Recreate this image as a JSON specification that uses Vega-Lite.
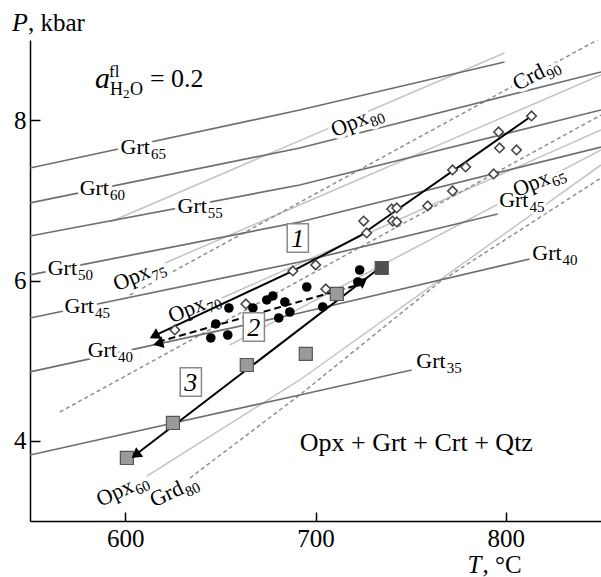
{
"$schema":"https://vega.github.io/schema/vega-lite/v6.json",
"width":571,"height":481,"autosize":"none",
"padding":{"left":30,"top":40,"right":0,"bottom":56},
"background":"white",
"config":{"font":"Liberation Serif","view":{"stroke":null},
 "axis":{"grid":false,"domainColor":"black","domainWidth":1.5,"tickColor":"black","tickWidth":1.5,"labelFontSize":25,"labelColor":"black","title":null,"labelFont":"Liberation Serif"}},
"datasets":{
"lines":[
{"k":"grt","id":"g65","T":550,"P":7.403},{"k":"grt","id":"g65","T":691.7,"P":8.127},{"k":"grt","id":"g65","T":799.3,"P":8.726},
{"k":"grt","id":"g60","T":550,"P":6.967},{"k":"grt","id":"g60","T":691.7,"P":7.653},{"k":"grt","id":"g60","T":850,"P":8.601},
{"k":"grt","id":"g55","T":550,"P":6.555},{"k":"grt","id":"g55","T":691.7,"P":7.191},{"k":"grt","id":"g55","T":850,"P":8.127},
{"k":"grt","id":"g50","T":550,"P":6.069},{"k":"grt","id":"g50","T":691.7,"P":6.730},{"k":"grt","id":"g50","T":850,"P":7.665},
{"k":"grt","id":"g45","T":550,"P":5.532},{"k":"grt","id":"g45","T":691.7,"P":6.231},{"k":"grt","id":"g45","T":795.7,"P":6.830},
{"k":"grt","id":"g40","T":550,"P":4.859},{"k":"grt","id":"g40","T":691.7,"P":5.595},{"k":"grt","id":"g40","T":812.5,"P":6.268},
{"k":"grt","id":"g35","T":550,"P":3.823},{"k":"grt","id":"g35","T":691.7,"P":4.572},{"k":"grt","id":"g35","T":750.5,"P":4.884},
{"k":"opx","id":"o80","T":592.0,"P":6.730},{"k":"opx","id":"o80","T":799.3,"P":8.838},
{"k":"opx","id":"o75","T":620.9,"P":6.218},{"k":"opx","id":"o75","T":850,"P":8.563},
{"k":"opx","id":"o70","T":650.8,"P":5.782},{"k":"opx","id":"o70","T":850,"P":7.877},
{"k":"opx","id":"o65","T":655.0,"P":5.195},{"k":"opx","id":"o65","T":850,"P":7.628},
{"k":"opx","id":"o60","T":611.4,"P":3.561},{"k":"opx","id":"o60","T":691.7,"P":4.759},{"k":"opx","id":"o60","T":850,"P":7.441},
{"k":"dash","id":"c90","T":602.5,"P":5.819},{"k":"dash","id":"c90","T":850,"P":9.025},
{"k":"dash","id":"d2","T":565.7,"P":4.360},{"k":"dash","id":"d2","T":850,"P":8.064},
{"k":"dash","id":"g80","T":634.0,"P":3.536},{"k":"dash","id":"g80","T":691.7,"P":4.572},{"k":"dash","id":"g80","T":765.2,"P":5.981},{"k":"dash","id":"g80","T":850,"P":7.279},
{"k":"s1","id":"s1","T":614.0,"P":5.296},{"k":"s1","id":"s1","T":688.1,"P":6.119},{"k":"s1","id":"s1","T":723.2,"P":6.555},{"k":"s1","id":"s1","T":813.5,"P":8.052},
{"k":"s2","id":"s2","T":617.2,"P":5.233},{"k":"s2","id":"s2","T":722.2,"P":5.944},
{"k":"s3","id":"s3","T":604.6,"P":3.811},{"k":"s3","id":"s3","T":733.7,"P":6.156}
],
"labels":[
{"main":"Grt","sub":"65","T":613.0,"P":7.578,"ang":0},
{"main":"Grt","sub":"60","T":591.5,"P":7.067,"ang":0},
{"main":"Grt","sub":"55","T":642.9,"P":6.842,"ang":0},
{"main":"Grt","sub":"50","T":574.7,"P":6.069,"ang":0},
{"main":"Grt","sub":"45","T":583.6,"P":5.595,"ang":0},
{"main":"Grt","sub":"40","T":595.7,"P":5.046,"ang":0},
{"main":"Grt","sub":"45","T":811.9,"P":6.917,"ang":0},
{"main":"Grt","sub":"40","T":829.3,"P":6.256,"ang":0},
{"main":"Grt","sub":"35","T":768.4,"P":4.909,"ang":0},
{"main":"Opx","sub":"80","T":728.5,"P":7.965,"ang":-22},
{"main":"Opx","sub":"75","T":614.0,"P":6.044,"ang":-22},
{"main":"Opx","sub":"70","T":642.9,"P":5.645,"ang":-22},
{"main":"Opx","sub":"65","T":824.0,"P":7.216,"ang":-22},
{"main":"Opx","sub":"60","T":605.1,"P":3.374,"ang":-25},
{"main":"Grd","sub":"80","T":631.4,"P":3.349,"ang":-25},
{"main":"Crd","sub":"90","T":821.4,"P":8.551,"ang":-27}
],
"diamonds":[
{"T":626.1,"P":5.383},{"T":663.4,"P":5.707},{"T":688.1,"P":6.119},{"T":700.1,"P":6.194},{"T":705.4,"P":5.894},
{"T":725.3,"P":6.742},{"T":726.9,"P":6.593},{"T":740.0,"P":6.892},{"T":742.7,"P":6.905},{"T":740.5,"P":6.742},
{"T":742.7,"P":6.730},{"T":758.9,"P":6.930},{"T":772.0,"P":7.379},{"T":778.9,"P":7.416},{"T":772.0,"P":7.117},
{"T":793.6,"P":7.329},{"T":796.2,"P":7.853},{"T":796.7,"P":7.653},{"T":805.6,"P":7.628},{"T":813.5,"P":8.052}
],
"circles":[
{"T":645.0,"P":5.283},{"T":647.6,"P":5.458},{"T":653.9,"P":5.320},{"T":654.5,"P":5.657},{"T":667.1,"P":5.657},
{"T":674.4,"P":5.757},{"T":677.6,"P":5.807},{"T":683.9,"P":5.732},{"T":686.5,"P":5.607},{"T":680.7,"P":5.533},
{"T":695.4,"P":5.919},{"T":703.8,"P":5.670},{"T":723.2,"P":6.131},{"T":722.2,"P":5.982}
],
"squares":[
{"T":600.9,"P":3.786,"c":"g"},{"T":625.1,"P":4.223,"c":"g"},{"T":663.9,"P":4.946,"c":"g"},
{"T":694.9,"P":5.084,"c":"g"},{"T":711.2,"P":5.832,"c":"g"},{"T":734.8,"P":6.156,"c":"d"}
],
"arrows":[
{"T":616.1,"P":5.320,"ang":242},{"T":618.2,"P":5.220,"ang":256},{"T":606.2,"P":3.836,"ang":233},{"T":724.3,"P":5.981,"ang":53}
],
"boxes":[
{"n":"1","T":690.7,"P":6.530},{"n":"2","T":667.6,"P":5.420},{"n":"3","T":634.5,"P":4.734}
],
"annot":[
{"txt":"a","T":584.1,"P":8.401,"size":30,"st":"i"},
{"txt":"fl","T":591.5,"P":8.538,"size":17,"st":"n"},
{"txt":"H","T":592.0,"P":8.314,"size":18,"st":"n"},
{"txt":"2","T":598.8,"P":8.277,"size":13,"st":"n"},
{"txt":"O","T":602.5,"P":8.314,"size":18,"st":"n"},
{"txt":"= 0.2","T":613.0,"P":8.414,"size":26,"st":"n"},
{"txt":"P","T":540.6,"P":9.112,"size":26,"st":"i"},
{"txt":", kbar","T":548.9,"P":9.112,"size":25,"st":"n"},
{"txt":"T","T":779.9,"P":2.352,"size":25,"st":"i"},
{"txt":", °C","T":787.8,"P":2.352,"size":25,"st":"n"},
{"txt":"Opx + Grt + Crt + Qtz","T":691.7,"P":3.873,"size":26,"st":"n"}
]
},
"encoding":{
 "x":{"field":"T","type":"quantitative","scale":{"domain":[550,850],"nice":false,"zero":false},"axis":{"values":[600,700,800],"tickSize":-9,"labelPadding":14,"labelFlush":false}},
 "y":{"field":"P","type":"quantitative","scale":{"domain":[3,9],"nice":false,"zero":false},"axis":{"values":[4,6,8],"tickSize":-10,"labelPadding":14,"labelFlush":false}}
},
"layer":[
{"data":{"name":"lines"},"transform":[{"filter":"datum.k=='opx'"}],"mark":{"type":"line","color":"#c3c3c3","strokeWidth":1.5,"clip":true},"encoding":{"detail":{"field":"id"}}},
{"data":{"name":"lines"},"transform":[{"filter":"datum.k=='dash'"}],"mark":{"type":"line","color":"#8f8f8f","strokeWidth":1.5,"strokeDash":[4,3],"clip":true},"encoding":{"detail":{"field":"id"}}},
{"data":{"name":"lines"},"transform":[{"filter":"datum.k=='grt'"}],"mark":{"type":"line","color":"#6e6e6e","strokeWidth":1.7,"clip":true},"encoding":{"detail":{"field":"id"}}},
{"data":{"name":"labels"},"mark":{"type":"text","align":"right","baseline":"alphabetic","fontSize":22,"fill":"white","stroke":"white","strokeWidth":7,"strokeJoin":"round"},"encoding":{"text":{"field":"main"},"angle":{"field":"ang","type":"quantitative","scale":null}}},
{"data":{"name":"labels"},"mark":{"type":"text","align":"left","baseline":"alphabetic","fontSize":15,"dx":1,"dy":5,"fill":"white","stroke":"white","strokeWidth":6,"strokeJoin":"round"},"encoding":{"text":{"field":"sub"},"angle":{"field":"ang","type":"quantitative","scale":null}}},
{"data":{"name":"labels"},"mark":{"type":"text","align":"right","baseline":"alphabetic","fontSize":22,"color":"black"},"encoding":{"text":{"field":"main"},"angle":{"field":"ang","type":"quantitative","scale":null}}},
{"data":{"name":"labels"},"mark":{"type":"text","align":"left","baseline":"alphabetic","fontSize":15,"dx":1,"dy":5,"color":"black"},"encoding":{"text":{"field":"sub"},"angle":{"field":"ang","type":"quantitative","scale":null}}},
{"data":{"name":"lines"},"transform":[{"filter":"datum.k=='s1'"}],"mark":{"type":"line","color":"black","strokeWidth":2},"encoding":{"detail":{"field":"id"}}},
{"data":{"name":"lines"},"transform":[{"filter":"datum.k=='s2'"}],"mark":{"type":"line","color":"black","strokeWidth":2,"strokeDash":[7,4]},"encoding":{"detail":{"field":"id"}}},
{"data":{"name":"lines"},"transform":[{"filter":"datum.k=='s3'"}],"mark":{"type":"line","color":"black","strokeWidth":2},"encoding":{"detail":{"field":"id"}}},
{"data":{"name":"diamonds"},"mark":{"type":"point","shape":"diamond","size":90,"filled":true,"fill":"white","stroke":"#444","strokeWidth":1.6,"opacity":1}},
{"data":{"name":"circles"},"mark":{"type":"circle","size":92,"color":"black","opacity":1}},
{"data":{"name":"squares"},"mark":{"type":"square","size":170,"stroke":"#555","strokeWidth":1.2,"opacity":1},"encoding":{"color":{"field":"c","type":"nominal","scale":{"domain":["g","d"],"range":["#9a9a9a","#505050"]},"legend":null}}},
{"data":{"name":"arrows"},"mark":{"type":"point","shape":"triangle","size":140,"filled":true,"color":"black","opacity":1},"encoding":{"angle":{"field":"ang","type":"quantitative","scale":null}}},
{"data":{"name":"boxes"},"mark":{"type":"point","shape":"M-0.75,-1H0.75V1H-0.75Z","size":800,"filled":true,"fill":"white","stroke":"#888","strokeWidth":1.5,"opacity":1}},
{"data":{"name":"boxes"},"mark":{"type":"text","align":"center","baseline":"middle","fontSize":26,"fontStyle":"italic","color":"black","dy":1},"encoding":{"text":{"field":"n"}}},
{"data":{"name":"annot"},"transform":[{"filter":"datum.st=='i'"}],"mark":{"type":"text","align":"left","baseline":"alphabetic","fontStyle":"italic","color":"black"},"encoding":{"text":{"field":"txt"},"size":{"field":"size","type":"quantitative","scale":null}}},
{"data":{"name":"annot"},"transform":[{"filter":"datum.st=='n'"}],"mark":{"type":"text","align":"left","baseline":"alphabetic","color":"black"},"encoding":{"text":{"field":"txt"},"size":{"field":"size","type":"quantitative","scale":null}}}
]
}
